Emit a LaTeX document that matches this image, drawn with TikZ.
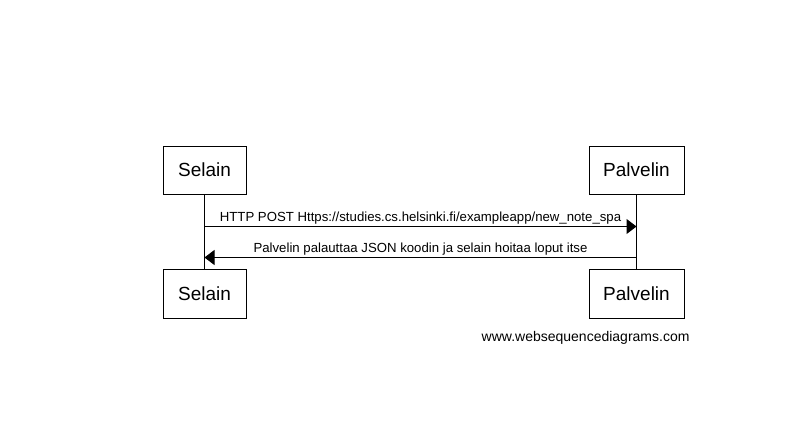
\documentclass[tikz,border=0pt]{standalone}
\usepackage{fontspec}
\setmainfont{Liberation Sans}
\usepackage{xcolor}
\usetikzlibrary{arrows.meta, positioning, calc}

\begin{document}
\begin{tikzpicture}[x=1pt,y=-1pt,line width=1pt]%
\useasboundingbox (0,0) rectangle (809,447);%
\node[draw,rectangle,black,minimum width=83pt,minimum height=48pt,align=center,font=\fontsize{19}{22}\selectfont] (selain_top) at (204.5,170) {Selain};%
\node[draw,rectangle,black,minimum width=95pt,minimum height=48pt,align=center,font=\fontsize{19}{22}\selectfont] (palvelin_top) at (636.5,170) {Palvelin};%
\node[draw,rectangle,black,minimum width=83pt,minimum height=49pt,align=center,font=\fontsize{19}{22}\selectfont,below=74pt of selain_top] (selain_bot) {Selain};%
\node[draw,rectangle,black,minimum width=95pt,minimum height=49pt,align=center,font=\fontsize{19}{22}\selectfont,below=74pt of palvelin_top] (palvelin_bot) {Palvelin};%
\draw[black] (selain_top) -- (selain_bot);%
\draw[black] (palvelin_top) -- (palvelin_bot);%
\coordinate (msg_0) at ($(selain_top.south)+(0,32)$);%
\coordinate (msg_1) at ($(palvelin_top.south)+(0,63)$);%
\draw[black,-{Triangle[length=10pt,width=15pt]}] (msg_0) -- (msg_0 -| palvelin_top.south) node[midway,anchor=base,yshift=5pt,font=\fontsize{13.2}{15}\selectfont] (lbl_0) {HTTP POST Https://studies.cs.helsinki.fi/exampleapp/new\_note\_spa};%
\draw[black,-{Triangle[length=10pt,width=15pt]}] (msg_1) -- (msg_1 -| selain_top.south) node[midway,anchor=base,yshift=5pt,font=\fontsize{13.2}{15}\selectfont] (lbl_1) {Palvelin palauttaa JSON koodin ja selain hoitaa loput itse};%
\node[black,anchor=east,inner sep=0pt,font=\fontsize{14}{16}\selectfont] (wsd) at (690,338) {www.websequencediagrams.com};%
\end{tikzpicture}
\end{document}
